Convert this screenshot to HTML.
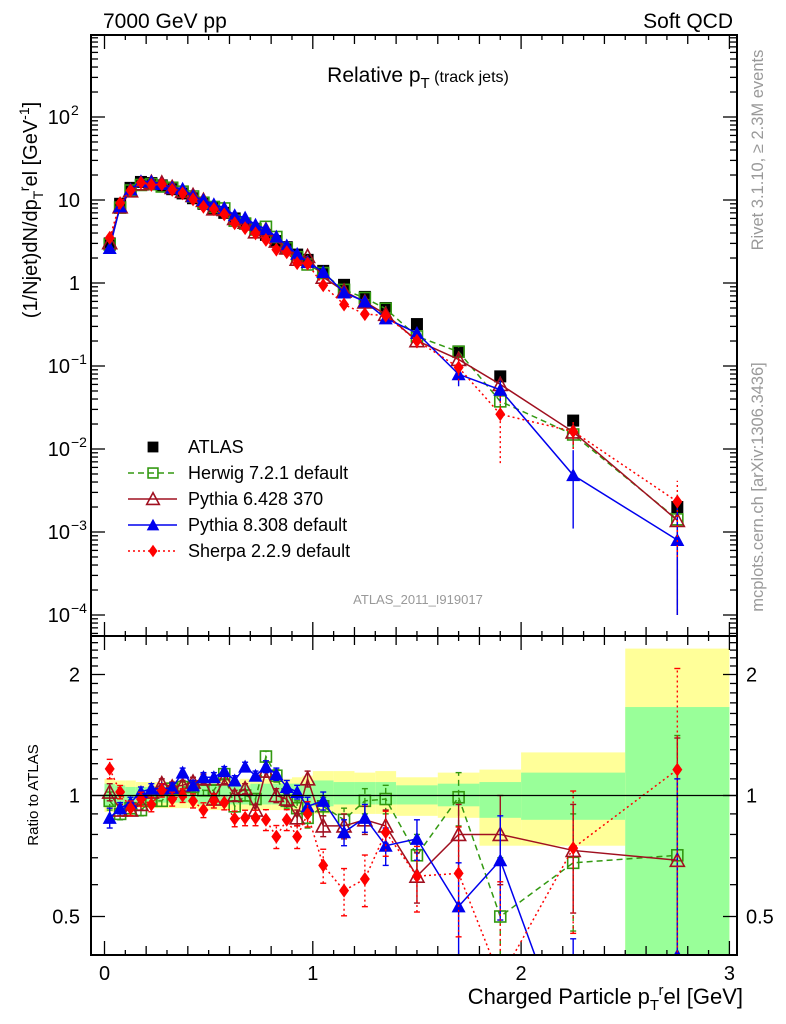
<!DOCTYPE html>
<html><head><meta charset="utf-8"><style>
html,body{margin:0;background:#fff;overflow:hidden;width:786px;height:1024px;}
svg{display:block;font-family:"Liberation Sans",sans-serif;}
</style></head><body>
<svg id="c" width="786" height="1024" viewBox="0 0 786 1024" xmlns="http://www.w3.org/2000/svg">
<defs>
<clipPath id="cm"><rect x="91" y="35" width="646" height="601"/></clipPath>
<clipPath id="cr"><rect x="91" y="636" width="646" height="319"/></clipPath>
</defs>
<g id="bands" clip-path="url(#cr)"></g>
<g id="ticks"></g>
<g id="ratioMarks" clip-path="url(#cr)"></g>
<g id="mainMarks" clip-path="url(#cm)"></g>
<rect x="91" y="35" width="646" height="601" fill="none" stroke="#000" stroke-width="2"/>
<rect x="91" y="636" width="646" height="319" fill="none" stroke="#000" stroke-width="2"/>
<line x1="91" x2="737" y1="795.5" y2="795.5" stroke="#000" stroke-width="1.2"/>
<text x="103" y="28" font-size="21">7000 GeV pp</text>
<text x="733" y="28" font-size="21" text-anchor="end">Soft QCD</text>
<text x="418" y="82" font-size="21" text-anchor="middle">Relative p<tspan font-size="15" dy="6">T</tspan><tspan font-size="16" dy="-6"> (track jets)</tspan></text>
<text x="418" y="604" font-size="13" fill="#999" text-anchor="middle">ATLAS_2011_I919017</text>
<text transform="translate(763,150) rotate(-90)" font-size="16.5" fill="#999" text-anchor="middle">Rivet 3.1.10, ≥ 2.3M events</text>
<text transform="translate(763,487) rotate(-90)" font-size="16.5" fill="#999" text-anchor="middle">mcplots.cern.ch [arXiv:1306.3436]</text>
<text transform="translate(37,210) rotate(-90)" font-size="20" text-anchor="middle">(1/Njet)dN/dp<tspan font-size="14" dy="6">T</tspan><tspan font-size="14" dy="-14">r</tspan><tspan dy="8">el [GeV</tspan><tspan font-size="14" dy="-8">-1</tspan><tspan dy="8">]</tspan></text>
<text transform="translate(38,795) rotate(-90)" font-size="15" text-anchor="middle">Ratio to ATLAS</text>
<text x="743" y="1004" font-size="22" text-anchor="end">Charged Particle p<tspan font-size="15" dy="6">T</tspan><tspan font-size="15" dy="-15">r</tspan><tspan dy="9">el [GeV]</tspan></text>
<g id="legend"></g>
</svg>
<script>
const xs=[0.025,0.075,0.125,0.175,0.225,0.275,0.325,0.375,0.425,0.475,0.525,0.575,0.625,0.675,0.725,0.775,0.825,0.875,0.925,0.975,1.05,1.15,1.25,1.35,1.5,1.7,1.9,2.25,2.75];
const binEdges=[0,0.05,0.1,0.15,0.2,0.25,0.3,0.35,0.4,0.45,0.5,0.55,0.6,0.65,0.7,0.75,0.8,0.85,0.9,0.95,1.0,1.1,1.2,1.3,1.4,1.6,1.8,2.0,2.5,3.0];
const atlas=[3.0,9,14,16.5,16,15,13.5,12,10.5,9,8,7,6,5.2,4.5,3.8,3.2,2.7,2.2,1.9,1.4,0.95,0.68,0.5,0.32,0.15,0.075,0.022,0.002];
const herwigRatio=[0.97,0.9,0.93,0.92,0.97,0.97,1.04,1.05,1.05,1.03,1.03,1.13,0.94,1.0,0.98,1.25,1.12,0.97,0.93,0.88,0.94,0.87,0.97,0.98,0.71,0.99,0.50,0.68,0.71];
const pythia6Ratio=[1.02,0.92,0.92,0.95,1.02,1.07,1.05,1.06,1.08,1.1,0.98,1.1,1.0,1.04,0.92,1.15,1.0,0.98,0.88,1.10,0.84,0.84,0.87,0.84,0.63,0.80,0.80,0.73,0.69];
const pythia8Ratio=[0.88,0.93,0.96,1.02,1.04,1.04,1.045,1.14,1.06,1.11,1.11,1.15,1.09,1.18,1.12,1.18,1.13,1.05,1.02,0.94,0.97,0.81,0.88,0.75,0.78,0.53,0.69,0.22,0.4];
const sherpaRatio=[1.165,1.02,0.93,0.98,0.95,1.03,0.98,1.0,0.97,0.92,0.97,0.96,0.875,0.88,0.88,0.87,0.79,0.87,0.79,0.90,0.67,0.58,0.62,0.81,0.63,0.64,0.35,0.74,1.16];
const mcErr=[0.05,0.03,0.03,0.03,0.03,0.03,0.03,0.03,0.03,0.03,0.03,0.03,0.03,0.03,0.03,0.04,0.04,0.04,0.04,0.05,0.05,0.06,0.07,0.08,0.09,0.15,0.2,0.22,0.7];
const yellowHi=[1.10,1.09,1.09,1.08,1.08,1.08,1.08,1.08,1.08,1.09,1.09,1.09,1.09,1.10,1.10,1.10,1.10,1.10,1.11,1.12,1.15,1.15,1.14,1.15,1.11,1.14,1.16,1.28,2.32];
const greenHi=[1.07,1.06,1.05,1.05,1.05,1.05,1.05,1.05,1.05,1.06,1.06,1.06,1.06,1.06,1.07,1.07,1.07,1.07,1.07,1.07,1.09,1.08,1.08,1.08,1.06,1.07,1.08,1.14,1.66];
const greenLo=[0.94,0.95,0.95,0.96,0.96,0.96,0.96,0.96,0.96,0.95,0.95,0.95,0.95,0.95,0.95,0.95,0.95,0.95,0.95,0.95,0.94,0.95,0.95,0.95,0.95,0.94,0.88,0.87,0.01];
const yellowLo=[0.91,0.92,0.93,0.93,0.93,0.93,0.93,0.93,0.93,0.92,0.92,0.92,0.92,0.92,0.92,0.92,0.92,0.92,0.91,0.91,0.90,0.90,0.90,0.90,0.89,0.88,0.75,0.75,0.01];
const ratioTicks=[0.5,1,2];
const xTicks=[0,1,2,3];

const NS="http://www.w3.org/2000/svg";
const X=v=>104.5+208.3*v;
const YM=v=>34+(3-Math.log10(v))*83;
const YR=r=>795.5-Math.log2(r)*121;
function mk(tag,at,par){const e=document.createElementNS(NS,tag);for(const k in at)e.setAttribute(k,at[k]);par.appendChild(e);return e;}
const svg=document.getElementById('c');
const bands=document.getElementById('bands');
for(let i=0;i<xs.length;i++){
 const x0=X(binEdges[i]),x1=X(binEdges[i+1]);
 const y=mk('rect',{x:x0,y:YR(yellowHi[i]),width:x1-x0,height:YR(yellowLo[i])-YR(yellowHi[i]),fill:'#ffff99'},bands);
 
 
 const g=mk('rect',{x:x0,y:YR(greenHi[i]),width:x1-x0,height:YR(greenLo[i])-YR(greenHi[i]),fill:'#99ff99'},bands);
 
 
}
const tk=document.getElementById('ticks');
function tl(x1,y1,x2,y2){mk('line',{x1,y1,x2,y2,stroke:'#000','stroke-width':1.3},tk);}
for(let v=0;v<=3.001;v+=0.1){
 const x=X(v);const major=Math.abs(v-Math.round(v))<0.001;const mid=Math.abs(v*5-Math.round(v*5))<0.001;
 const L=major?14:(mid?9:5);
 tl(x,35,x,35+L);tl(x,636,x,636-L);tl(x,636,x,636+L);tl(x,955,x,955-L);
}
for(let d=-5;d<=3;d++){for(let m=1;m<10;m++){const v=m*Math.pow(10,d);const y=YM(v);if(y<35||y>636)continue;const L=m==1?14:7;tl(91,y,91+L,y);tl(737,y,737-L,y);}}
for(let r=0.4;r<2.6;r+=0.1){const y=YR(r);if(y<636||y>955)continue;const mj=Math.abs(r-0.5)<0.01||Math.abs(r-1)<0.01||Math.abs(r-2)<0.01;const L=mj?14:7;tl(91,y,91+L,y);tl(737,y,737-L,y);}
for(const t of xTicks){const e=mk('text',{x:X(t),y:980,'font-size':20,'text-anchor':'middle'},svg);e.textContent=t;
 
 }
for(const t of ratioTicks){for(const side of [0,1]){const e=mk('text',{x:side?746:80,y:YR(t)+7,'font-size':20,'text-anchor':side?'start':'end'},svg);e.textContent=t;
 
 }}
const mainLabels=[[2,'10','2'],[1,'10',''],[0,'1',''],[-1,'10','−1'],[-2,'10','−2'],[-3,'10','−3'],[-4,'10','−4']];
for(const [d,b,s] of mainLabels){const y=YM(Math.pow(10,d))+7;const e=mk('text',{x:s?70:80,y,'font-size':20,'text-anchor':'end'},svg);e.textContent=b;
 
 
 if(s){const t=mk('text',{x:71,y:y-9,'font-size':14},svg);t.textContent=s;}}

function marker(type,x,y,col,par,sz){
 sz=sz||1;
 if(type=='sq')return mk('rect',{x:x-5.5*sz,y:y-5.5*sz,width:11*sz,height:11*sz,fill:'none',stroke:col,'stroke-width':1.6},par);
 if(type=='fsq')return mk('rect',{x:x-6*sz,y:y-6*sz,width:12*sz,height:12*sz,fill:col},par);
 if(type=='tri')return mk('polygon',{points:`${x},${y-7*sz} ${x-7*sz},${y+6*sz} ${x+7*sz},${y+6*sz}`,fill:'none',stroke:col,'stroke-width':1.6},par);
 if(type=='ftri')return mk('polygon',{points:`${x},${y-7*sz} ${x-7*sz},${y+6*sz} ${x+7*sz},${y+6*sz}`,fill:col},par);
 if(type=='dia')return mk('polygon',{points:`${x},${y-7*sz} ${x-5*sz},${y} ${x},${y+7*sz} ${x+5*sz},${y}`,fill:col},par);
}
const series=[
 {name:'herwig',ratio:herwigRatio,col:'#339911',dash:'6,4',m:'sq',label:'Herwig 7.2.1 default',ef:1},
 {name:'pythia6',ratio:pythia6Ratio,col:'#a01020',dash:'',m:'tri',label:'Pythia 6.428 370',ef:1},
 {name:'pythia8',ratio:pythia8Ratio,col:'#0000ee',dash:'',m:'ftri',label:'Pythia 8.308 default',ef:1},
 {name:'sherpa',ratio:sherpaRatio,col:'#ff0000',dash:'2,3',m:'dia',label:'Sherpa 2.2.9 default',ef:1.3}];
const mm=document.getElementById('mainMarks'),rm=document.getElementById('ratioMarks');
for(let i=0;i<xs.length;i++){const e=marker('fsq',X(xs[i]),YM(atlas[i]),'#000',mm);
 
 }
for(const s of series){
 const mp=[],rp=[];
 for(let i=0;i<xs.length;i++){mp.push(X(xs[i])+','+YM(atlas[i]*s.ratio[i]));rp.push(X(xs[i])+','+YR(s.ratio[i]));}
 for(const [par,pts] of [[mm,mp],[rm,rp]]){const l=mk('polyline',{points:pts.join(' '),fill:'none',stroke:s.col,'stroke-width':1.5,'stroke-dasharray':s.dash},par);
  
  }
 for(let i=0;i<xs.length;i++){
  const x=X(xs[i]),r=s.ratio[i],e=mcErr[i]*s.ef;
  const rlo=Math.max(r-e,0.05),rhi=r+e;
  mk('line',{x1:x,x2:x,y1:YR(rlo),y2:YR(rhi),stroke:s.col,'stroke-width':1.4,'stroke-dasharray':s.dash},rm);
  mk('line',{x1:x-3,x2:x+3,y1:YR(rhi),y2:YR(rhi),stroke:s.col,'stroke-width':1.4},rm);
  mk('line',{x1:x-3,x2:x+3,y1:YR(rlo),y2:YR(rlo),stroke:s.col,'stroke-width':1.4},rm);
  const v=atlas[i]*r;
  mk('line',{x1:x,x2:x,y1:YM(atlas[i]*rlo),y2:YM(atlas[i]*rhi),stroke:s.col,'stroke-width':1.4,'stroke-dasharray':s.dash},mm);
  const a=marker(s.m,x,YM(v),s.col,mm);
  
  
  const b=marker(s.m,x,YR(r),s.col,rm);
  
  
 }
}
const lg=document.getElementById('legend');
const a0=marker('fsq',153,447,'#000',lg,0.9);


const t0=mk('text',{x:188,y:453,'font-size':18},lg);t0.textContent='ATLAS';


series.forEach((s,k)=>{const y=473+26*k;
 mk('line',{x1:128,x2:177,y1:y,y2:y,stroke:s.col,'stroke-width':1.5,'stroke-dasharray':s.dash},lg);
 marker(s.m,153,y,s.col,lg,0.9);
 const t=mk('text',{x:188,y:y+6,'font-size':18},lg);t.textContent=s.label;
 
 
});
</script>
</body></html>
